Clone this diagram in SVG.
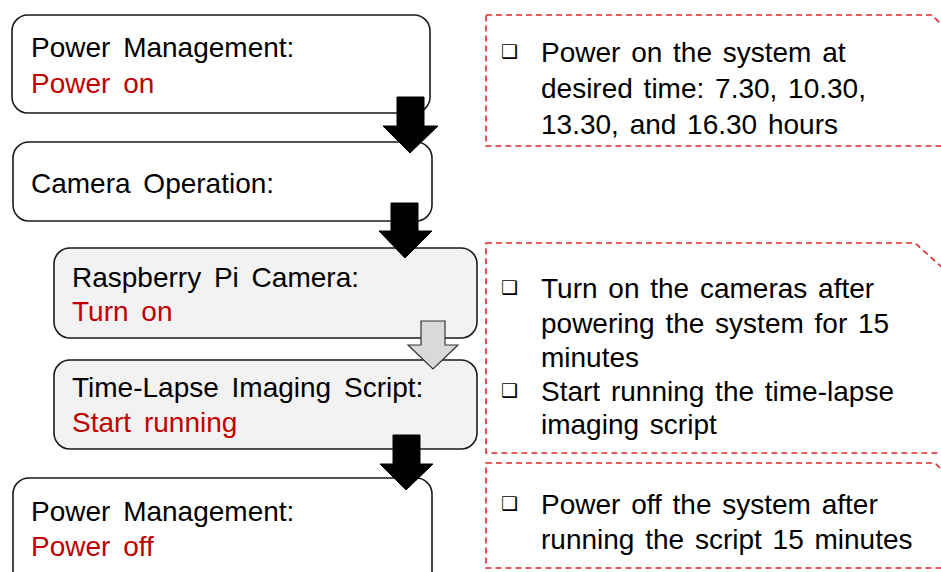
<svg xmlns="http://www.w3.org/2000/svg" width="941" height="572" viewBox="0 0 941 572">
  <defs>
    <style>
      .box { fill: #ffffff; stroke: #1a1a1a; stroke-width: 1.6; }
      .sub { fill: #f2f2f2; stroke: #1a1a1a; stroke-width: 1.6; }
      .note { fill: none; stroke: #e0262b; stroke-width: 1.6; stroke-dasharray: 6 4; }
      .t { font-family: "Liberation Sans", Arial, sans-serif; font-size: 28px; fill: #000000; word-spacing: 3px; }
      .l { word-spacing: 5px; }
      .red { fill: #c00000; }
      .bul { font-family: "DejaVu Sans", sans-serif; font-size: 19px; fill: #000000; }
      .arrow { fill: #000000; stroke: #000000; stroke-width: 1; }
      .arrow-light { fill: #d9d9d9; stroke: #333333; stroke-width: 1.2; }
    </style>
  </defs>

  <!-- process steps -->
  <g id="power-on">
    <rect class="box" x="12" y="15" width="418" height="98" rx="16"/>
    <text class="t l" x="31" y="57">Power Management:</text>
    <text class="t l red" x="31" y="93">Power on</text>
  </g>
  <g id="camera-operation">
    <rect class="box" x="13" y="142" width="419" height="79" rx="16"/>
    <text class="t l" x="31" y="193">Camera Operation:</text>
  </g>
  <g id="pi-camera">
    <rect class="sub" x="54" y="248" width="423" height="90" rx="16"/>
    <text class="t l" x="72" y="287">Raspberry Pi Camera:</text>
    <text class="t l red" x="72" y="321">Turn on</text>
  </g>
  <g id="timelapse-script">
    <rect class="sub" x="54" y="360" width="423" height="89" rx="16"/>
    <text class="t l" x="72" y="397">Time-Lapse Imaging Script:</text>
    <text class="t l red" x="72" y="432">Start running</text>
  </g>
  <g id="power-off">
    <rect class="box" x="13" y="478" width="419" height="110" rx="16"/>
    <text class="t l" x="31" y="521">Power Management:</text>
    <text class="t l red" x="31" y="556">Power off</text>
  </g>

  <!-- notes -->
  <g id="note-power-on">
    <path class="note" d="M486 15 H932 L962 45 V146 H486 Z"/>
    <text class="bul" x="501" y="58">❑</text>
    <text class="t" x="541" y="62">Power on the system at</text>
    <text class="t" x="541" y="98">desired time: 7.30, 10.30,</text>
    <text class="t" x="541" y="134">13.30, and 16.30 hours</text>
  </g>
  <g id="note-camera">
    <path class="note" d="M486 243 H915 L945 270 V453 H486 Z"/>
    <text class="bul" x="501" y="294">❑</text>
    <text class="t" x="541" y="298">Turn on the cameras after</text>
    <text class="t" x="541" y="333">powering the system for 15</text>
    <text class="t" x="541" y="367">minutes</text>
    <text class="bul" x="501" y="397">❑</text>
    <text class="t" x="541" y="401">Start running the time-lapse</text>
    <text class="t" x="541" y="434">imaging script</text>
  </g>
  <g id="note-power-off">
    <path class="note" d="M486 463 H935 L965 493 V568 H486 Z"/>
    <text class="bul" x="501" y="510">❑</text>
    <text class="t" x="541" y="514">Power off the system after</text>
    <text class="t" x="541" y="549">running the script 15 minutes</text>
  </g>

  <!-- connectors -->
  <g id="connectors">
    <polygon class="arrow" points="397,97 424,97 424,126 438,126 410,153 383,126 397,126"/>
    <polygon class="arrow" points="391,203 418,203 418,231 432,231 405,258 379,231 391,231"/>
    <polygon class="arrow-light" points="421,321 445,321 445,345 458,345 433,369 408,345 421,345"/>
    <polygon class="arrow" points="393,435 420,435 420,464 433,464 406,490 380,464 393,464"/>
  </g>
</svg>
